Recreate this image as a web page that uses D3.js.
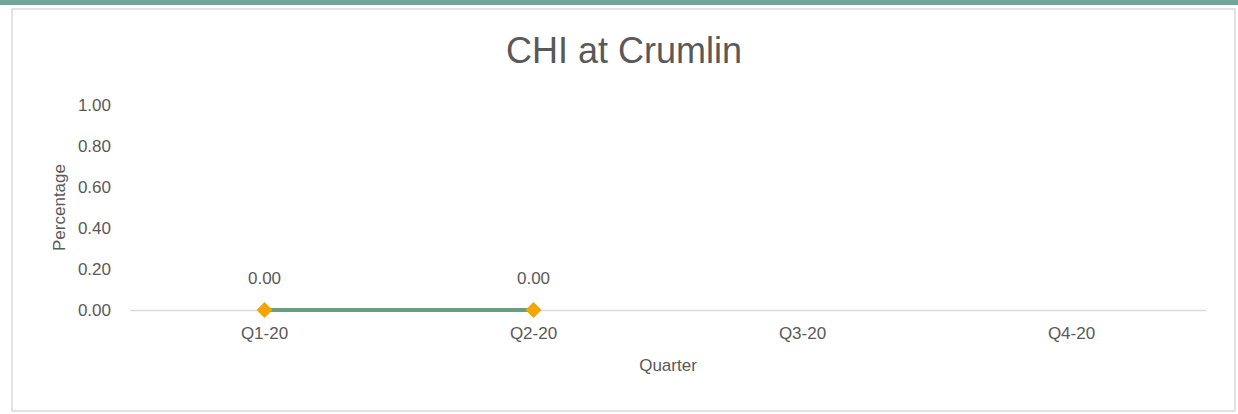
<!DOCTYPE html>
<html>
<head>
<meta charset="utf-8">
<script src="https://cdn.jsdelivr.net/npm/d3@7"></script>
<style>
  body { margin: 0; background: #fff; }
  svg { display: block; font-family: "Liberation Sans", Arial, sans-serif; }
</style>
</head>
<body>
<div id="container"></div>
<script>
/** DATA */
const quarters = ["Q1-20", "Q2-20", "Q3-20", "Q4-20"];
const values = [0, 0, null, null];
const yTicks = [0, 0.2, 0.4, 0.6, 0.8, 1.0];

/** CONSTANTS */
const width = 1238,
  height = 414,
  margin = { top: 105, bottom: 104, left: 130, right: 32 };

const textColor = "#595959";
const labelSize = "17px";

const svg = d3.select("#container")
  .append("svg")
  .attr("width", width)
  .attr("height", height);

// teal band across the top
svg.append("rect")
  .attr("x", 0).attr("y", 0)
  .attr("width", width).attr("height", 5)
  .attr("fill", "#6fa59d");

// chart frame
svg.append("rect")
  .attr("x", 12).attr("y", 9)
  .attr("width", 1223).attr("height", 402)
  .attr("fill", "#fff")
  .attr("stroke", "#d9d9d9")
  .attr("stroke-width", 1.5);

// scales
const x = d3.scaleBand()
  .domain(quarters)
  .range([margin.left, width - margin.right]);

const y = d3.scaleLinear()
  .domain([0, 1])
  .range([height - margin.bottom, margin.top]);

// title
svg.append("text")
  .attr("x", 624).attr("y", 63)
  .attr("text-anchor", "middle")
  .attr("fill", textColor)
  .style("font-size", "36px")
  .text("CHI at Crumlin");

// y axis (labels only)
const yAxis = d3.axisLeft(y)
  .tickValues(yTicks)
  .tickFormat(d3.format(".2f"))
  .tickSize(0)
  .tickPadding(0);

const gy = svg.append("g")
  .attr("transform", `translate(${margin.left - 19},0)`)
  .call(yAxis);
gy.select(".domain").remove();
gy.selectAll("text")
  .attr("fill", textColor)
  .style("font-size", labelSize)
  .style("font-family", "Liberation Sans, Arial, sans-serif");

// x axis
const xAxis = d3.axisBottom(x).tickSize(0).tickPadding(17);
const gx = svg.append("g")
  .attr("transform", `translate(0,${y(0)})`)
  .call(xAxis);
gx.select(".domain")
  .attr("stroke", "#d9d9d9")
  .attr("stroke-width", 1.5);
gx.selectAll("text")
  .attr("fill", textColor)
  .style("font-size", labelSize)
  .style("font-family", "Liberation Sans, Arial, sans-serif");

// axis titles
svg.append("text")
  .attr("transform", `translate(65,${(y(0) + y(1)) / 2}) rotate(-90)`)
  .attr("text-anchor", "middle")
  .attr("fill", textColor)
  .style("font-size", labelSize)
  .text("Percentage");

svg.append("text")
  .attr("x", 668)
  .attr("y", 371)
  .attr("text-anchor", "middle")
  .attr("fill", textColor)
  .style("font-size", labelSize)
  .text("Quarter");

// series
const points = quarters.map((q, i) => ({ q, v: values[i] }))
  .filter(d => d.v !== null);

const line = d3.line()
  .x(d => x(d.q) + x.bandwidth() / 2)
  .y(d => y(d.v));

svg.append("path")
  .datum(points)
  .attr("d", line)
  .attr("fill", "none")
  .attr("stroke", "#6a9e80")
  .attr("stroke-width", 4);

svg.selectAll(".marker")
  .data(points)
  .join("path")
  .attr("class", "marker")
  .attr("d", d3.symbol(d3.symbolDiamond2, 162))
  .attr("transform", d => `translate(${x(d.q) + x.bandwidth() / 2},${y(d.v)})`)
  .attr("fill", "#f4a600");

svg.selectAll(".label")
  .data(points)
  .join("text")
  .attr("class", "label")
  .attr("x", d => x(d.q) + x.bandwidth() / 2)
  .attr("y", d => y(d.v) - 26)
  .attr("text-anchor", "middle")
  .attr("fill", textColor)
  .style("font-size", labelSize)
  .text(d => d3.format(".2f")(d.v));
</script>
</body>
</html>
